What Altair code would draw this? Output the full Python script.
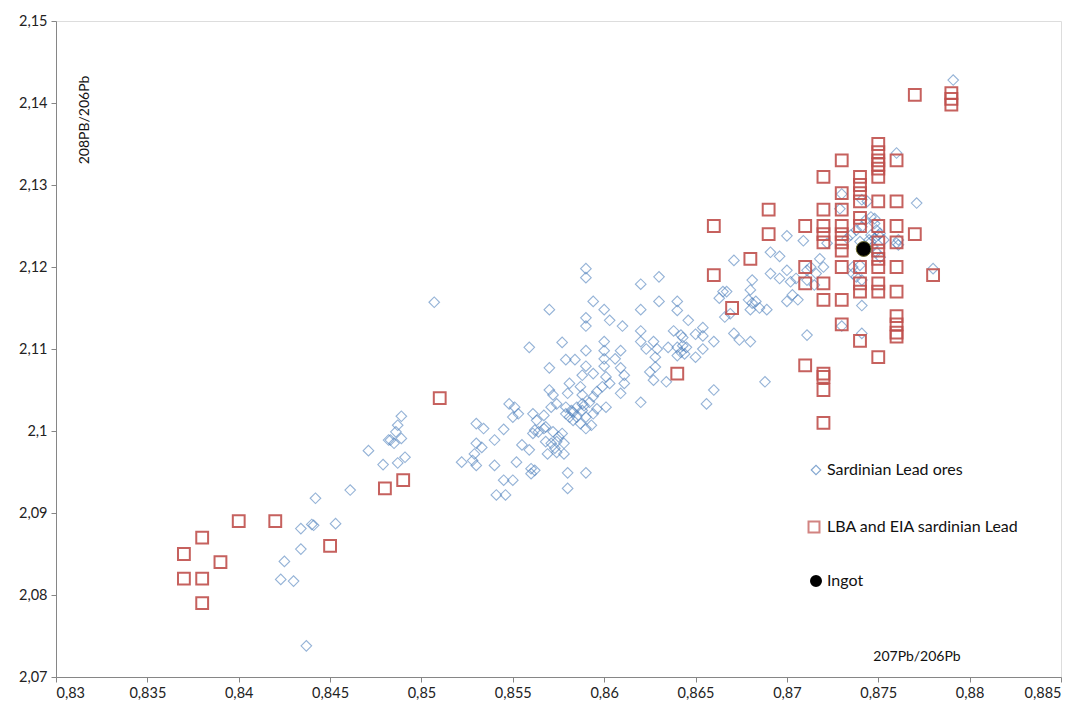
import altair as alt
import pandas as pd

# Sardinian lead ores (207Pb/206Pb, 208Pb/206Pb)
ore_x = [0.8489, 0.8487, 0.8486, 0.8483, 0.8485, 0.8489, 0.8482, 0.8471, 0.8479, 0.8487,
         0.8491, 0.8461, 0.8442, 0.8434, 0.8440, 0.8441, 0.8453, 0.8434, 0.8425, 0.8423,
         0.8430, 0.8437,
         0.8530, 0.8534, 0.8545, 0.8530, 0.8533, 0.8529, 0.8528, 0.8530, 0.8522, 0.8540,
         0.8540, 0.8552, 0.8545, 0.8550, 0.8541, 0.8546, 0.8560, 0.8562, 0.8560, 0.8555,
         0.8559, 0.8550, 0.8553, 0.8548, 0.8551, 0.8561, 0.8563, 0.8562, 0.8561, 0.8564,
         0.8567, 0.8568, 0.8568, 0.8571, 0.8574, 0.8573, 0.8569, 0.8578, 0.8572, 0.8575,
         0.8574, 0.8578, 0.8577, 0.8579, 0.8581, 0.8583, 0.8585, 0.8582, 0.8585, 0.8588,
         0.8587, 0.8590, 0.8593, 0.8596, 0.8601, 0.8580, 0.8590, 0.8580, 0.8571, 0.8574,
         0.8620,
         0.8507, 0.8590, 0.8590, 0.8630, 0.8620, 0.8594, 0.8570, 0.8600, 0.8620, 0.8630,
         0.8640, 0.8640, 0.8590, 0.8590, 0.8603, 0.8610, 0.8646, 0.8620, 0.8638, 0.8642,
         0.8643, 0.8650, 0.8654, 0.8654, 0.8660, 0.8559, 0.8577, 0.8590, 0.8600, 0.8600,
         0.8609, 0.8620, 0.8623, 0.8627, 0.8629, 0.8628, 0.8635, 0.8640, 0.8640, 0.8644,
         0.8650, 0.8654, 0.8570, 0.8579, 0.8584, 0.8590, 0.8594, 0.8600, 0.8600, 0.8606,
         0.8609, 0.8611, 0.8611, 0.8628, 0.8625, 0.8627, 0.8634, 0.8609, 0.8588, 0.8601,
         0.8603, 0.8599, 0.8596, 0.8594, 0.8592, 0.8589, 0.8581, 0.8580, 0.8570, 0.8572,
         0.8587, 0.8588, 0.8579, 0.8583, 0.8588, 0.8590, 0.8594, 0.8567, 0.8660, 0.8656,
         0.8691, 0.8696, 0.8671, 0.8691, 0.8681, 0.8665, 0.8663, 0.8667, 0.8680, 0.8679,
         0.8681, 0.8683, 0.8685, 0.8680, 0.8689, 0.8669, 0.8666, 0.8696, 0.8700, 0.8702,
         0.8705, 0.8700, 0.8703, 0.8706, 0.8711, 0.8713, 0.8718, 0.8720, 0.8716, 0.8711,
         0.8715, 0.8645, 0.8643, 0.8642, 0.8671, 0.8674, 0.8680, 0.8711, 0.8730, 0.8741,
         0.8741, 0.8736, 0.8738, 0.8741, 0.8740, 0.8736, 0.8749, 0.8751, 0.8746, 0.8747,
         0.8780, 0.8688, 0.8760,
         0.8791, 0.8760, 0.8730, 0.8771, 0.8741, 0.8744, 0.8700, 0.8709, 0.8735, 0.8738,
         0.8741, 0.8743, 0.8746, 0.8748, 0.8749, 0.8751, 0.8745, 0.8740, 0.8761,
         0.8729, 0.8748, 0.8746, 0.8748, 0.8750, 0.8753, 0.8761, 0.8722, 0.8733]
ore_y = [2.1018, 2.1007, 2.0999, 2.0989, 2.0985, 2.0991, 2.0989, 2.0976, 2.0959, 2.0961,
         2.0968, 2.0928, 2.0918, 2.0881, 2.0886, 2.0885, 2.0887, 2.0856, 2.0841, 2.0819,
         2.0817, 2.0738,
         2.1009, 2.1003, 2.1002, 2.0985, 2.0980, 2.0972, 2.0964, 2.0958, 2.0962, 2.0989,
         2.0958, 2.0962, 2.0940, 2.0940, 2.0922, 2.0922, 2.0954, 2.0952, 2.0948, 2.0983,
         2.0977, 2.1017, 2.1021, 2.1033, 2.1029, 2.1021, 2.1013, 2.1001, 2.0997, 2.0999,
         2.1019, 2.1005, 2.0987, 2.0985, 2.0974, 2.0979, 2.0972, 2.0972, 2.0999, 2.0993,
         2.0987, 2.0985, 2.0997, 2.1021, 2.1017, 2.1013, 2.1017, 2.1025, 2.1029, 2.1033,
         2.1009, 2.1003, 2.1007, 2.1027, 2.1029, 2.0949, 2.0949, 2.0930, 2.1029, 2.1033,
         2.1035,
         2.1157, 2.1198, 2.1187, 2.1188, 2.1179, 2.1158, 2.1148, 2.1148, 2.1148, 2.1158,
         2.1158, 2.1147, 2.1138, 2.1128, 2.1135, 2.1128, 2.1135, 2.1122, 2.1122, 2.1117,
         2.1114, 2.1118, 2.1126, 2.1116, 2.1109, 2.1102, 2.1108, 2.1098, 2.1109, 2.1098,
         2.1098, 2.1109, 2.1100, 2.1109, 2.1100, 2.1090, 2.1102, 2.1102, 2.1092, 2.1094,
         2.1090, 2.1100, 2.1077, 2.1087, 2.1087, 2.1079, 2.1070, 2.1079, 2.1088, 2.1088,
         2.1077, 2.1068, 2.1058, 2.1078, 2.1072, 2.1062, 2.1060, 2.1046, 2.1068, 2.1066,
         2.1058, 2.1054, 2.1048, 2.1042, 2.1035, 2.1031, 2.1058, 2.1046, 2.1050, 2.1044,
         2.1054, 2.1044, 2.1029, 2.1023, 2.1025, 2.1017, 2.1021, 2.1003, 2.1050, 2.1033,
         2.1218, 2.1213, 2.1208, 2.1192, 2.1184, 2.1170, 2.1162, 2.1170, 2.1172, 2.1160,
         2.1156, 2.1158, 2.1150, 2.1148, 2.1148, 2.1143, 2.1139, 2.1186, 2.1196, 2.1182,
         2.1186, 2.1158, 2.1166, 2.1160, 2.1196, 2.1200, 2.1210, 2.1200, 2.1192, 2.1184,
         2.1178, 2.1102, 2.1104, 2.1096, 2.1119, 2.1111, 2.1109, 2.1117, 2.1128, 2.1119,
         2.1153, 2.1192, 2.1188, 2.1184, 2.1202, 2.1200, 2.1218, 2.1212, 2.1231, 2.1225,
         2.1198, 2.1060, 2.1229,
         2.1428, 2.1339, 2.1289, 2.1278, 2.1282, 2.1280, 2.1238, 2.1232, 2.1239, 2.1245,
         2.1249, 2.1257, 2.1261, 2.1253, 2.1245, 2.1241, 2.1233, 2.1231, 2.1233,
         2.1271, 2.1259, 2.1239, 2.1235, 2.1239, 2.1233, 2.1227, 2.1229, 2.1235]

# LBA and EIA sardinian lead
lead_x = [0.837, 0.837, 0.838, 0.838, 0.838, 0.839, 0.840, 0.842, 0.845, 0.848,
          0.849, 0.851, 0.864, 0.866, 0.866, 0.867, 0.868, 0.869, 0.869,
          0.871, 0.871, 0.871, 0.871,
          0.872, 0.872, 0.872, 0.872, 0.872, 0.872, 0.872, 0.872, 0.872, 0.872, 0.872,
          0.873, 0.873, 0.873, 0.873, 0.873, 0.873, 0.873, 0.873, 0.873, 0.873,
          0.874, 0.874, 0.874, 0.874, 0.874, 0.874, 0.874, 0.874, 0.874, 0.874,
          0.875, 0.875, 0.875, 0.875, 0.875, 0.875, 0.875, 0.875, 0.875, 0.875,
          0.875, 0.875, 0.875, 0.875, 0.875,
          0.876, 0.876, 0.876, 0.876, 0.876, 0.876, 0.876, 0.876, 0.876, 0.876,
          0.877, 0.877, 0.878, 0.879, 0.879, 0.879]
lead_y = [2.085, 2.082, 2.087, 2.082, 2.079, 2.084, 2.089, 2.089, 2.086, 2.093,
          2.094, 2.104, 2.107, 2.125, 2.119, 2.115, 2.121, 2.127, 2.124,
          2.125, 2.120, 2.118, 2.108,
          2.131, 2.127, 2.125, 2.124, 2.123, 2.118, 2.116, 2.107, 2.1066, 2.105, 2.101,
          2.133, 2.129, 2.127, 2.125, 2.124, 2.123, 2.122, 2.120, 2.116, 2.113,
          2.131, 2.130, 2.129, 2.128, 2.126, 2.125, 2.120, 2.118, 2.117, 2.111,
          2.135, 2.134, 2.133, 2.1325, 2.132, 2.131, 2.128, 2.125, 2.123, 2.122,
          2.121, 2.120, 2.118, 2.117, 2.109,
          2.133, 2.128, 2.125, 2.123, 2.120, 2.117, 2.114, 2.113, 2.112, 2.1115,
          2.141, 2.124, 2.119, 2.1412, 2.1405, 2.1398]

# Ingot
ingot_x = [0.8742]
ingot_y = [2.1222]

x_ticks = [0.83, 0.835, 0.84, 0.845, 0.85, 0.855, 0.86, 0.865, 0.87, 0.875, 0.88, 0.885]
y_ticks = [2.07, 2.08, 2.09, 2.10, 2.11, 2.12, 2.13, 2.14, 2.15]

legend_labels = ["Sardinian Lead ores", "LBA and EIA sardinian Lead", "Ingot"]

ores = pd.DataFrame({"x": ore_x, "y": ore_y})
lead = pd.DataFrame({"x": lead_x, "y": lead_y})
ingot = pd.DataFrame({"x": ingot_x, "y": ingot_y})

FONT = "Lato"
W, H = 1005, 656
label_expr = "replace(toString(round(datum.value*1000)/1000), '.', ',')"

xs = alt.Scale(domain=[0.83, 0.885], nice=False, zero=False)
ys = alt.Scale(domain=[2.07, 2.15], nice=False, zero=False)

xax = alt.Axis(values=x_ticks, labelExpr=label_expr, title=None, grid=False,
               domainColor="#868686", tickColor="#868686", tickSize=5,
               labelFont=FONT, labelFontSize=14.5, labelColor="#222222", labelPadding=4)
yax = alt.Axis(values=y_ticks, labelExpr=label_expr, title=None, grid=False,
               domainColor="#868686", tickColor="#868686", tickSize=5,
               labelFont=FONT, labelFontSize=14.5, labelColor="#222222", labelPadding=4)

base_ores = alt.Chart(ores).mark_point(
    shape="diamond", size=112, filled=False, stroke="#4F81BD", strokeWidth=1.1, opacity=0.6
).encode(x=alt.X("x:Q", scale=xs, axis=xax), y=alt.Y("y:Q", scale=ys, axis=yax))

base_lead = alt.Chart(lead).mark_point(
    shape="square", size=140, filled=False, stroke="#C0504D", strokeWidth=2, opacity=0.9
).encode(x=alt.X("x:Q", scale=xs), y=alt.Y("y:Q", scale=ys))

base_ingot = alt.Chart(ingot).mark_point(
    shape="circle", size=220, filled=True, fill="#000000", stroke="#6b6b2a", strokeWidth=1, opacity=1
).encode(x=alt.X("x:Q", scale=xs), y=alt.Y("y:Q", scale=ys))

# legend inside plot
lg_y = [449, 506, 560]
leg_d = alt.Chart(pd.DataFrame({"k": [0]})).mark_point(
    shape="diamond", size=90, filled=False, stroke="#4F81BD", strokeWidth=1.1, opacity=0.7
).encode(x=alt.value(760), y=alt.value(lg_y[0]))
leg_s = alt.Chart(pd.DataFrame({"k": [0]})).mark_point(
    shape="square", size=120, filled=False, stroke="#C0504D", strokeWidth=2
).encode(x=alt.value(758), y=alt.value(lg_y[1]))
leg_c = alt.Chart(pd.DataFrame({"k": [0]})).mark_point(
    shape="circle", size=100, filled=True, fill="#000000", stroke="#000000", opacity=1
).encode(x=alt.value(760), y=alt.value(lg_y[2]))
leg_t = [
    alt.Chart(pd.DataFrame({"t": [legend_labels[i]]})).mark_text(
        align="left", baseline="middle", font=FONT, fontSize=16, color="#111111"
    ).encode(x=alt.value(771), y=alt.value(lg_y[i]), text="t:N")
    for i in range(3)
]

ytitle = alt.Chart(pd.DataFrame({"t": ["208PB/206Pb"]})).mark_text(
    angle=270, align="center", baseline="middle", font=FONT, fontSize=14, color="#111111"
).encode(x=alt.value(29), y=alt.value(99), text="t:N")
xtitle = alt.Chart(pd.DataFrame({"t": ["207Pb/206Pb"]})).mark_text(
    align="center", baseline="middle", font=FONT, fontSize=14, color="#111111"
).encode(x=alt.value(861), y=alt.value(636), text="t:N")

chart = alt.layer(
    base_ores, base_lead, base_ingot, leg_d, leg_s, leg_c, *leg_t, ytitle, xtitle
).properties(
    width=W, height=H,
    autosize=alt.AutoSizeParams(type="none"),
    padding={"left": 48, "top": 13, "right": 15, "bottom": 30},
).configure_view(stroke=None).configure(background="white")

chart.save("out.html", embed_options={"renderer": "svg", "actions": False})
